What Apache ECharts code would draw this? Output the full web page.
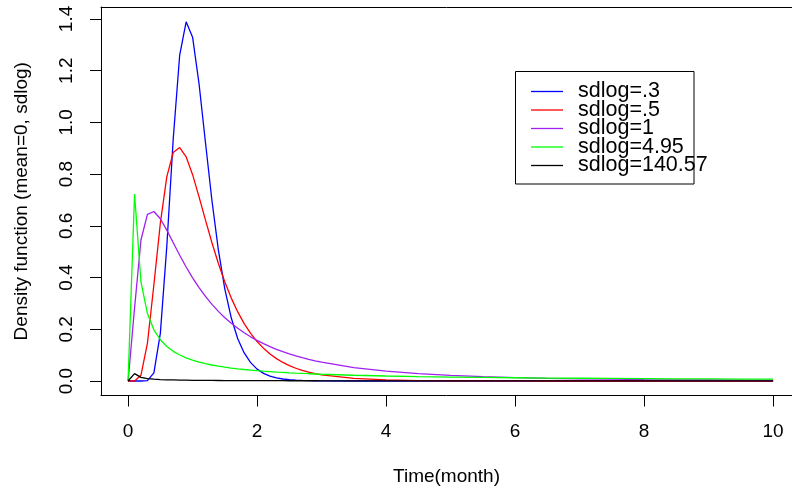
<!DOCTYPE html>
<html>
<head>
<meta charset="utf-8">
<script src="https://cdn.jsdelivr.net/npm/echarts@6/dist/echarts.min.js"></script>
<style>
html,body{margin:0;padding:0;background:#fff;}
#chart{width:792px;height:491px;}
</style>
</head>
<body>
<div id="chart"></div>
<script>
// Time (month) sample points
const xs = [0,0.1,0.2,0.3,0.4,0.5,0.6,0.7,0.8,0.9,1.0,1.1,1.2,1.3,1.4,1.5,1.6,1.7,1.8,1.9,2.0,2.1,2.2,2.3,2.4,2.5,2.6,2.7,2.8,2.9,3.0,3.5,4,4.5,5,5.5,6,6.5,7,7.5,8,8.5,9,9.5,10];

const sdlog03 = [0,0,0,0.0014,0.0314,0.1843,0.5201,0.9370,1.2606,1.3892,1.3298,1.1494,0.9213,0.6979,0.5064,0.3557,0.2436,0.1637,0.1084,0.0710,0.0461,0.0297,0.0191,0.0123,0.0078,0.0050,0.0032,0.0021,0.0013,0.0008,0.0005,0,0,0,0,0,0,0,0,0,0,0,0,0,0];
const sdlog05 = [0,0.0002,0.0225,0.1465,0.3721,0.6104,0.7891,0.8838,0.9028,0.8671,0.7979,0.7123,0.6221,0.5348,0.4544,0.3828,0.3206,0.2672,0.2221,0.1842,0.1526,0.1264,0.1046,0.0866,0.0718,0.0595,0.0494,0.0411,0.0342,0.0285,0.0238,0.0099,0.0043,0.0019,0.0009,0.0004,0.0002,0.0001,0.0001,0,0,0,0,0,0];
const sdlog1 = [0,0.2816,0.5462,0.6442,0.6554,0.6275,0.5836,0.5348,0.4864,0.4408,0.3989,0.3610,0.3270,0.2965,0.2693,0.2450,0.2233,0.2039,0.1865,0.1709,0.1569,0.1443,0.1329,0.1226,0.1133,0.1049,0.0972,0.0902,0.0839,0.0780,0.0727,0.0520,0.0382,0.0286,0.0218,0.0170,0.0134,0.0106,0.0086,0.0070,0.0057,0.0048,0.0040,0.0033,0.0028];
const sdlog495 = [0,0.7233,0.3822,0.2608,0.1981,0.1596,0.1336,0.1148,0.1006,0.0895,0.0806,0.0733,0.0671,0.0619,0.0574,0.0535,0.0501,0.0471,0.0445,0.0421,0.0399,0.0379,0.0362,0.0345,0.0331,0.0317,0.0304,0.0293,0.0282,0.0272,0.0262,0.0223,0.0194,0.0171,0.0153,0.0138,0.0126,0.0115,0.0107,0.0099,0.0092,0.0086,0.0081,0.0077,0.0072];
const sdlog14057 = [0,0.0284,0.0142,0.0095,0.0071,0.0057,0.0047,0.0041,0.0035,0.0032,0.0028,0.0026,0.0024,0.0022,0.0020,0.0019,0.0018,0.0017,0.0016,0.0015,0.0014,0.0014,0.0013,0.0012,0.0012,0.0011,0.0011,0.0011,0.0010,0.0010,0.0009,0.0008,0.0007,0.0006,0.0006,0.0005,0.0005,0.0004,0.0004,0.0004,0.0004,0.0003,0.0003,0.0003,0.0003];

const seriesNames = ['sdlog=.3','sdlog=.5','sdlog=1','sdlog=4.95','sdlog=140.57'];
const seriesColors = ['#0000FF','#FF0000','#A020F0','#00FF00','#000000'];
const seriesValues = [sdlog03, sdlog05, sdlog1, sdlog495, sdlog14057];

const xTicks = [0,2,4,6,8,10];
const yTicks = [0,0.2,0.4,0.6,0.8,1.0,1.2,1.4];

const FONT = 'Liberation Sans, Arial, Helvetica, sans-serif';
const XMIN = -0.42, XMAX = 10.293;

const chart = echarts.init(document.getElementById('chart'), null, {renderer:'canvas'});
chart.setOption({
  animation: false,
  backgroundColor: '#ffffff',
  grid: {left: 101, top: 7, right: 0, height: 389, show: false, containLabel: false},
  xAxis: [{
    type: 'value', min: XMIN, max: XMAX, position: 'bottom',
    axisLine: {show: true, onZero: false, lineStyle: {color: '#000', width: 1}},
    splitLine: {show: false},
    axisTick: {show: true, customValues: xTicks, length: 11, lineStyle: {color: '#000', width: 1}},
    axisLabel: {customValues: xTicks, fontSize: 19, fontFamily: FONT, color: '#000', margin: 27},
    name: 'Time(month)', nameLocation: 'middle', nameGap: 71.5,
    nameTextStyle: {fontSize: 19, fontFamily: FONT, color: '#000'}
  }, {
    type: 'value', min: XMIN, max: XMAX, position: 'top',
    axisLine: {show: true, onZero: false, lineStyle: {color: '#000', width: 1}},
    splitLine: {show: false}, axisTick: {show: false}, axisLabel: {show: false}
  }],
  yAxis: {
    type: 'value', min: -0.056, max: 1.4463,
    axisLine: {show: true, onZero: false, lineStyle: {color: '#000', width: 1}},
    splitLine: {show: false},
    axisTick: {show: true, customValues: yTicks, length: 11, lineStyle: {color: '#000', width: 1}},
    axisLabel: {customValues: yTicks, rotate: 90, fontSize: 19, fontFamily: FONT, color: '#000', margin: 25,
      formatter: v => v.toFixed(1)},
    name: 'Density function (mean=0, sdlog)', nameLocation: 'middle', nameGap: 70,
    nameTextStyle: {fontSize: 19, fontFamily: FONT, color: '#000'}
  },
  legend: {
    show: true, orient: 'vertical', left: 531, top: 80.5, padding: 0, itemGap: -3.5,
    itemWidth: 32, itemHeight: 1.3, icon: 'rect', selectedMode: false,
    data: seriesNames,
    textStyle: {fontSize: 21.5, fontFamily: FONT, color: '#000', padding: [0,0,0,10]}
  },
  graphic: [{
    type: 'rect', shape: {x: 515.5, y: 71.5, width: 178.5, height: 112.5},
    style: {fill: 'none', stroke: '#000', lineWidth: 1}, z: 100
  }],
  series: seriesNames.map((name, k) => ({
    name: name, type: 'line', symbol: 'none', showSymbol: false,
    xAxisIndex: 0,
    color: seriesColors[k],
    lineStyle: {color: seriesColors[k], width: 1.3},
    data: xs.map((x, i) => [x, seriesValues[k][i]])
  }))
});
</script>
</body>
</html>
